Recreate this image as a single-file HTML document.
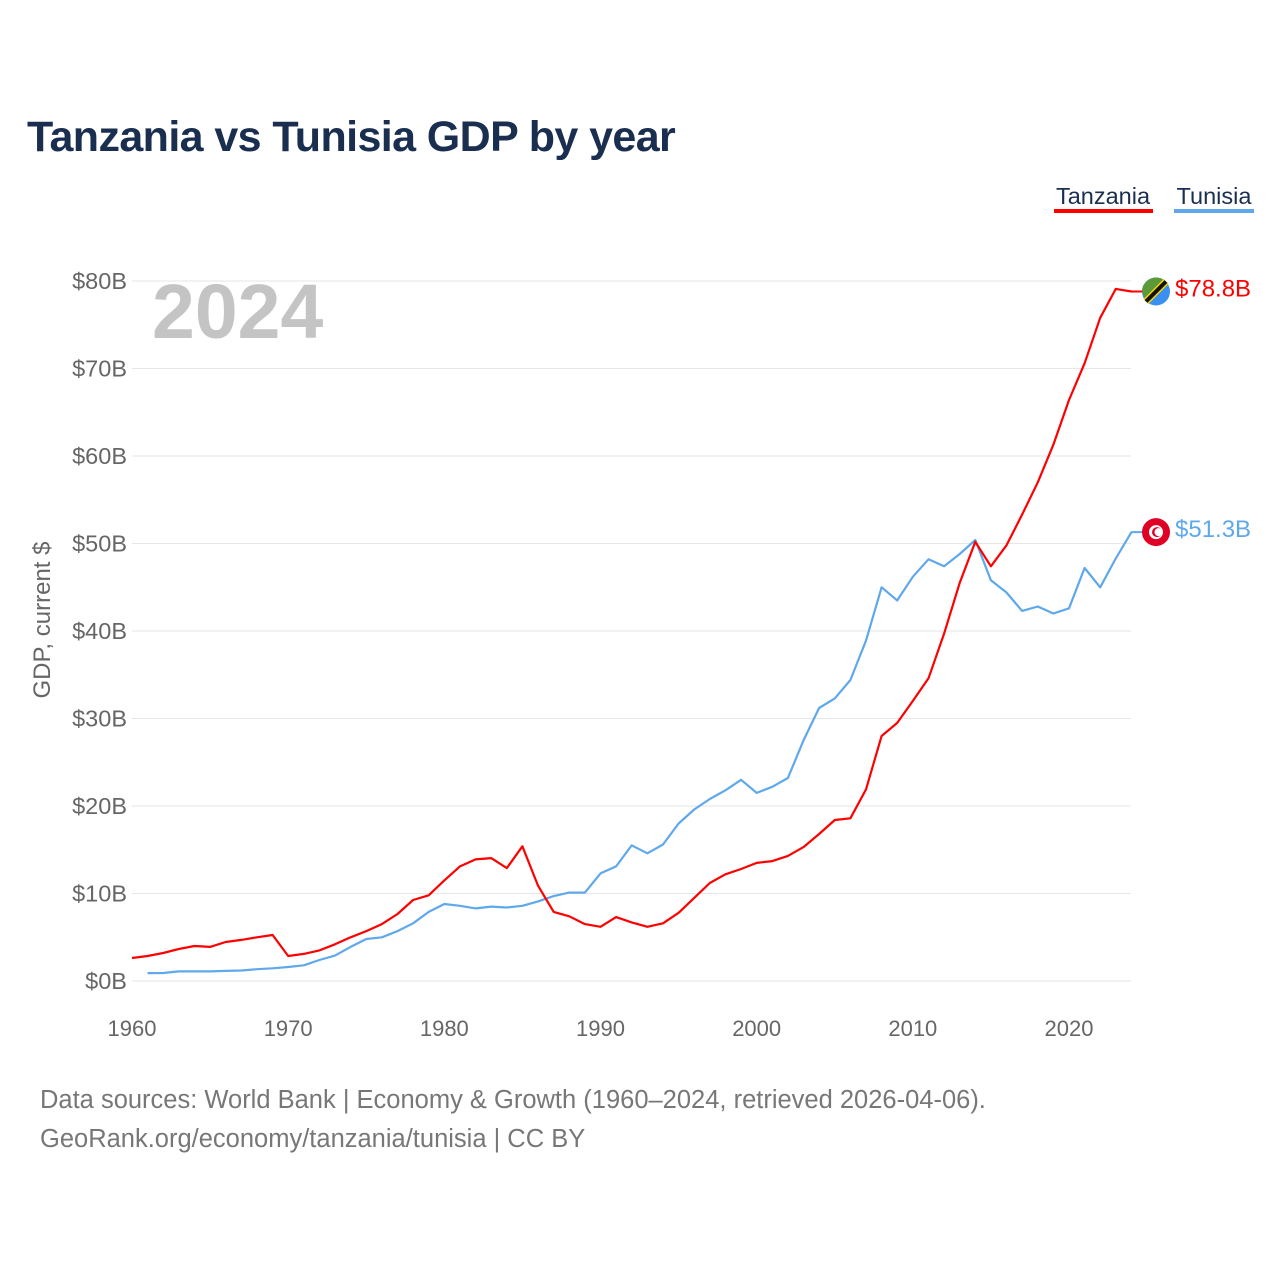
<!DOCTYPE html>
<html><head><meta charset="utf-8">
<style>
html,body{margin:0;padding:0;background:#fff;width:1280px;height:1280px;overflow:hidden;font-family:"Liberation Sans",sans-serif}
#title{position:absolute;left:27px;top:113px;font-size:43px;font-weight:bold;color:#1a2e4f;margin:0;letter-spacing:-0.6px}
svg{position:absolute;left:0;top:0}
</style></head><body>
<h1 id="title">Tanzania vs Tunisia GDP by year</h1>
<svg id="chart" width="1280" height="1280"></svg>
<script>
const years=[];for(let y=1960;y<=2024;y++)years.push(y);
const tanzania=[2.63,2.86,3.2,3.66,4.0,3.9,4.46,4.7,5.0,5.26,2.86,3.1,3.5,4.2,5.0,5.7,6.5,7.66,9.26,9.8,11.5,13.1,13.9,14.05,12.9,15.4,10.9,7.9,7.4,6.5,6.2,7.3,6.7,6.2,6.6,7.8,9.5,11.2,12.2,12.8,13.5,13.7,14.3,15.3,16.8,18.4,18.6,21.9,28.0,29.5,32.0,34.6,39.7,45.5,50.2,47.4,49.8,53.3,57.0,61.3,66.4,70.6,75.8,79.1,78.8];
const tunisia=[null,0.9,0.92,1.1,1.1,1.1,1.15,1.2,1.35,1.45,1.6,1.8,2.4,2.9,3.9,4.8,5.0,5.7,6.6,7.9,8.8,8.6,8.3,8.5,8.4,8.6,9.1,9.7,10.1,10.1,12.3,13.1,15.5,14.6,15.6,18.0,19.6,20.8,21.8,23.0,21.5,22.2,23.2,27.5,31.2,32.3,34.4,38.9,45.0,43.5,46.2,48.2,47.4,48.8,50.4,45.8,44.4,42.3,42.8,42.0,42.6,47.2,45.0,48.3,51.3];
const yTicks=[0,10,20,30,40,50,60,70,80];
const xTicks=[1960,1970,1980,1990,2000,2010,2020];
const NS="http://www.w3.org/2000/svg";
const svg=document.getElementById('chart');
const xs=y=>132+(y-1960)*(937/60);
const ys=v=>981-v*8.75;
function el(t,a,txt){const e=document.createElementNS(NS,t);for(const k in a)e.setAttribute(k,a[k]);if(txt!=null)e.textContent=txt;svg.appendChild(e);return e;}
yTicks.forEach(v=>{
  const g=el('line',{x1:132,x2:1131,y1:ys(v),y2:ys(v),stroke:'#e6e6e6','stroke-width':1});
  
  
  const t=el('text',{x:127,y:ys(v)+8,'text-anchor':'end','font-size':23.5,fill:'#666'},'$'+v+'B');
  
  
});
xTicks.forEach(y=>{
  const t=el('text',{x:xs(y),y:1036,'text-anchor':'middle','font-size':22,fill:'#666'},String(y));
  
  
});
const yt=el('text',{x:0,y:0,transform:'translate(50,620) rotate(-90)','text-anchor':'middle','font-size':24,fill:'#666'},'GDP, current $');


const yr=el('text',{x:152,y:338,'font-size':77,'font-weight':'bold',fill:'#c4c4c4'},'2024');


function line(data,color,name){
  let d='';data.forEach((v,i)=>{if(v==null)return;d+=(d?'L':'M')+xs(years[i]).toFixed(1)+','+ys(v).toFixed(1);});
  const p=el('path',{d:d,fill:'none',stroke:color,'stroke-width':2.2,'stroke-linejoin':'round'});
  
  
}
line(tunisia,'#5fa8ec','tunisia-line');
line(tanzania,'#ff0000','tanzania-line');
const tzY=ys(tanzania[tanzania.length-1]), tnY=ys(tunisia[tunisia.length-1]);
el('line',{x1:1131,x2:1145,y1:tzY,y2:tzY,stroke:'#ff0000','stroke-width':2});
el('line',{x1:1131,x2:1145,y1:tnY,y2:tnY,stroke:'#5fa8ec','stroke-width':2});
el('circle',{cx:1156,cy:tzY,r:14,fill:'#3a8ff0'});
el('path',{d:`M${1142},${tzY} A14,14 0 0 1 ${1156+9.9},${tzY-9.9} L${1142+4.1},${tzY+9.9} Z`,fill:'#5a9a3a'});
el('line',{x1:1146,y1:tzY+10,x2:1166,y2:tzY-10,stroke:'#f5d100','stroke-width':7});
el('line',{x1:1146,y1:tzY+10,x2:1166,y2:tzY-10,stroke:'#111','stroke-width':4});
el('circle',{cx:1156,cy:tnY,r:14,fill:'#e00025'});
el('circle',{cx:1156,cy:tnY,r:7,fill:'#fff'});
el('circle',{cx:1157,cy:tnY,r:5,fill:'#e00025'});
el('circle',{cx:1158.5,cy:tnY,r:4,fill:'#fff'});
const l1=el('text',{x:1175,y:tzY+5,'font-size':24,fill:'#ff0000'},'$78.8B');

const l2=el('text',{x:1175,y:tnY+5,'font-size':24,fill:'#5fa8ec'},'$51.3B');

const lg1=el('text',{x:1103,y:204,'text-anchor':'middle','font-size':23.5,fill:'#1a2e4f'},'Tanzania');

el('rect',{x:1054,y:209,width:99,height:4,fill:'#ff0000'});
const lg2=el('text',{x:1214,y:204,'text-anchor':'middle','font-size':23.5,fill:'#1a2e4f'},'Tunisia');

el('rect',{x:1174,y:209,width:80,height:4,fill:'#5fa8ec'});
const s1=el('text',{x:40,y:1108,'font-size':25.5,fill:'#777'},'Data sources: World Bank | Economy & Growth (1960–2024, retrieved 2026-04-06).');

const s2=el('text',{x:40,y:1147,'font-size':25.5,fill:'#777'},'GeoRank.org/economy/tanzania/tunisia | CC BY');

</script>
</body></html>
